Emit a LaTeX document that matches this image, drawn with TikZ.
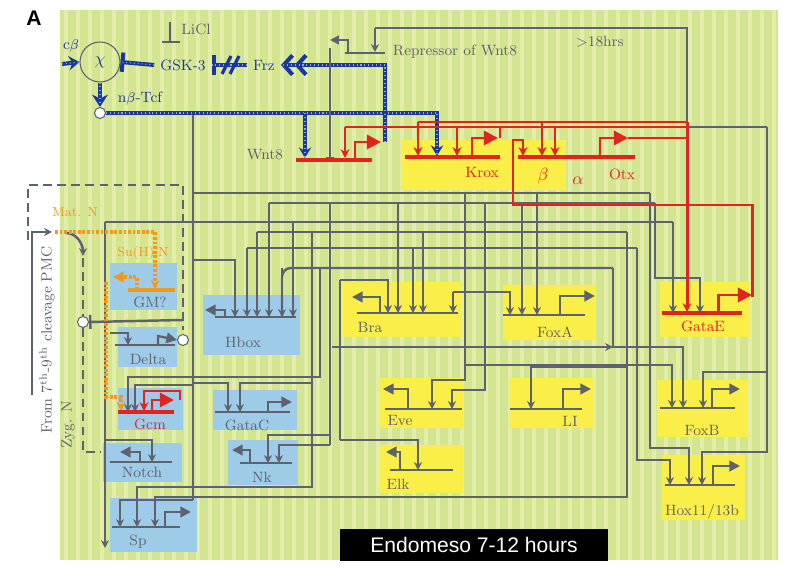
\documentclass[tikz,border=0pt]{standalone}
\usepackage{fontspec}
\newfontfamily\tagfont{Liberation Sans}
\usetikzlibrary{arrows.meta, positioning}
\definecolor{bggreen}{RGB}{212,229,146}
\definecolor{bgstripe}{RGB}{226,237,170}
\definecolor{wgray}{RGB}{94,98,110}
\definecolor{genered}{RGB}{226,36,30}
\definecolor{wntblue}{RGB}{24,56,158}
\definecolor{matorange}{RGB}{242,152,28}
\definecolor{geneyellow}{RGB}{250,238,72}
\definecolor{geneblue}{RGB}{158,204,232}

\begin{document}
\begin{tikzpicture}[x=0.02cm, y=-0.02cm,
        gname/.style={font=\fontsize{8.5}{9}\selectfont, text=wgray},
        rname/.style={font=\fontsize{8.5}{9}\selectfont, text=genered},
        bname/.style={font=\fontsize{8.5}{10}\selectfont, text=wntblue},
        oname/.style={font=\fontsize{7.5}{9}\selectfont, text=matorange},
        wire/.style={draw=wgray, line width=1.4pt, -{Stealth[length=4.5pt,width=4.5pt]}},
        gline/.style={draw=wgray, line width=1.4pt},
        gbar/.style={draw=wgray, line width=1.4pt},
        prom/.style={draw=wgray, line width=1.3pt, -{Triangle[length=6pt,width=6pt]}},
        rwire/.style={draw=genered, line width=1.7pt, -{Stealth[length=5pt,width=5pt]}},
        rline/.style={draw=genered, line width=1.7pt},
        rbar/.style={draw=genered, line width=1.9pt},
        rprom/.style={draw=genered, line width=1.7pt, -{Triangle[length=8pt,width=8pt]}},
        bwire/.style={draw=wntblue, line width=2.3pt, postaction={draw=wntblue!45!white, arrows=-, line width=0.6pt, dash pattern=on 0.6pt off 1.6pt}},
        owire/.style={draw=matorange, line width=2pt, dash pattern=on 1.6pt off 1pt},
        ybox/.style={fill=geneyellow},
        bbox/.style={fill=geneblue},
        dline/.style={draw=wgray, line width=1pt, dash pattern=on 5pt off 3pt},
        knot/.style={circle, draw=wgray, fill=white, line width=0.6pt, minimum size=0.22cm, inner sep=0pt}
    ]
    \useasboundingbox (0,0) rectangle (788,570);
    \fill[white] (0,0) rectangle (788,570);
    \fill[bggreen] (60,10) rectangle (778,560);
    \foreach \x in {64,76,...,772}
        \fill[bgstripe] (\x,10) rectangle (\x+4,560);

    % gene boxes
    \fill[ybox] (402,140) rectangle (566,190);
    \fill[ybox] (340,282) rectangle (462,337);
    \fill[ybox] (503,285) rectangle (595,340);
    \fill[ybox] (660,282) rectangle (750,337);
    \fill[ybox] (380,378) rectangle (463,428);
    \fill[ybox] (510,378) rectangle (593,428);
    \fill[ybox] (380,445) rectangle (463,493);
    \fill[ybox] (657,380) rectangle (748,437);
    \fill[ybox] (662,455) rectangle (745,520);
    \fill[bbox] (110,263) rectangle (177,310);
    \fill[bbox] (118,327) rectangle (177,367);
    \fill[bbox] (203,295) rectangle (300,355);
    \fill[bbox] (118,388) rectangle (183,430);
    \fill[bbox] (213,390) rectangle (297,430);
    \fill[bbox] (103,443) rectangle (182,482);
    \fill[bbox] (228,440) rectangle (298,485);
    \fill[bbox] (110,498) rectangle (197,552);

    \node[font=\tagfont\bfseries\large] (panel) at (34,18) {A};

    % left: maternal and zygotic N
    \draw[dline] (28,240) -- (28,185) -- (183,185) -- (183,330);
    \draw[wire] (32,395) -- (32,232) -- (52,232);
    \draw[gline, -{Stealth[length=4.5pt,width=4.5pt]}] (66,233) to[out=0, in=90] (83,256);
    \draw[dline] (83,258) -- (83,452) -- (100,452);
    \node[knot] (nleft) at (83,322) {};
    \node[knot] (nright) at (183,340) {};
    \draw[gline, -{Bar[width=8pt]}] (183,320) -- (nleft.east);
    \node[gname, rotate=90] (pmc) at (47,340) {From 7\textsuperscript{th}-9\textsuperscript{th} cleavage PMC};
    \node[gname, rotate=90] (zygn) at (68,425) {Zyg. N};

    % gray network
    \draw[gline] (193,113) -- (193,500);
    \draw[wire] (193,500) -- (120,500) -- (120,527);
    \draw[wire] (193,260) -- (235,260) -- (235,317);
    \draw[gline] (193,193) -- (650,193);
    \draw[wire] (650,193) -- (650,448) -- (689,448) -- (689,485);
    \draw[gline] (269,203) -- (655,203);
    \draw[wire] (269,203) -- (269,317);
    \draw[wire] (655,203) -- (655,278) -- (700,278) -- (700,313);
    \draw[gline] (105,222) -- (673,222);
    \draw[wire] (673,222) -- (673,313);
    \draw[wire] (293,222) -- (293,317);
    \draw[wire] (105,222) -- (105,548);
    \draw[gline] (257,232) -- (627,232);
    \draw[wire] (257,232) -- (257,317);
    \draw[wire] (627,232) -- (627,497) -- (155,497) -- (155,527);
    \draw[wire] (627,367) -- (531,367) -- (531,409);
    \draw[gline] (247,248) -- (637,248);
    \draw[wire] (247,248) -- (247,317);
    \draw[wire] (637,248) -- (637,460) -- (670,460) -- (670,485);
    \draw[gline, rounded corners=5pt] (282,317) -- (282,268) -- (613,268);
    \draw[wire] (282,268) -- (282,317);
    \draw[wire] (613,268) -- (613,347) -- (683,347) -- (683,408);
    \draw[wire] (332,347) -- (613,347);
    \draw[wire] (465,365) -- (672,365) -- (672,408);
    \draw[wire] (767,127) -- (767,452) -- (702,452) -- (702,485);
    \draw[wire] (767,372) -- (703,372) -- (703,408);
    \draw[gline] (767,127) -- (687,127) -- (687,28) -- (375,28);
    \draw[wire] (375,28) -- (375,52);

    % Bra, FoxA
    \draw[gline] (340,440) -- (340,280);
    \draw[wire] (340,280) -- (388,280) -- (388,313);
    \draw[wire] (398,203) -- (398,313);
    \draw[wire] (413,248) -- (413,313);
    \draw[wire] (423,232) -- (423,313);
    \draw[wire] (453,292) -- (453,313);
    \draw[wire] (453,292) -- (510,292) -- (510,315);
    \draw[wire] (522,203) -- (522,315);
    \draw[wire] (537,193) -- (537,315);
    \draw[gbar] (357,313) -- (458,313);
    \draw[prom] (380,313) -- (380,297) -- (352,297);
    \draw[gbar] (503,315) -- (585,315);
    \draw[prom] (560,315) -- (560,296) -- (595,296);

    % Eve, Lim, Elk
    \draw[wire] (465,193) -- (465,380) -- (432,380) -- (432,409);
    \draw[wire] (485,203) -- (485,390) -- (452,390) -- (452,409);
    \draw[gbar] (385,409) -- (462,409);
    \draw[prom] (408,409) -- (408,389) -- (383,389);
    \draw[gbar] (510,409) -- (582,409);
    \draw[prom] (563,409) -- (563,389) -- (591,389);
    \draw[wire] (340,440) -- (418,440) -- (418,470);
    \draw[gbar] (390,470) -- (453,470);
    \draw[prom] (400,470) -- (400,452) -- (386,452);

    % FoxB, Hox11/13b
    \draw[gbar] (660,408) -- (735,408);
    \draw[prom] (712,408) -- (712,389) -- (740,389);
    \draw[gbar] (665,485) -- (735,485);
    \draw[prom] (713,485) -- (713,466) -- (740,466);

    % mesoderm genes
    \draw[gbar] (215,317) -- (296,317);
    \draw[prom] (225,317) -- (225,310) -- (205,310);
    \draw[wire] (193,383) -- (228,383) -- (228,412);
    \draw[wire] (312,232) -- (312,383) -- (240,383) -- (240,412);
    \draw[gbar] (215,412) -- (290,412);
    \draw[prom] (268,412) -- (268,402) -- (292,402);
    \draw[wire] (320,268) -- (320,377) -- (128,377) -- (128,412);
    \draw[wire] (193,385) -- (135,385) -- (135,412);
    \draw[wire] (312,383) -- (312,487) -- (137,487) -- (137,527);
    \draw[gline] (330,203) -- (330,445);
    \draw[wire] (330,435) -- (268,435) -- (268,463);
    \draw[wire] (330,445) -- (279,445) -- (279,463);
    \draw[gbar] (240,463) -- (292,463);
    \draw[prom] (250,463) -- (250,450) -- (232,450);
    \draw[wire] (105,440) -- (152,440) -- (152,462);
    \draw[gbar] (110,462) -- (172,462);
    \draw[prom] (140,462) -- (140,452) -- (120,452);
    \draw[gbar] (112,527) -- (180,527);
    \draw[prom] (165,527) -- (165,512) -- (191,512);
    \draw[wire] (110,333) -- (128,333) -- (128,345);
    \draw[gbar] (115,345) -- (175,345);
    \draw[prom] (158,345) -- (158,336) -- (nright.west);

    % maternal N and Su(H):N
    \draw[owire, -{Stealth[length=5pt,width=5pt]}] (55,232) -- (155,232) -- (155,289);
    \draw[owire, -{Triangle[length=6pt,width=6pt]}] (137,290) -- (137,277) -- (113,277);
    \draw[owire, -{Stealth[length=5pt,width=5pt]}] (106,282) -- (106,397) -- (121,397) -- (121,411);
    \draw[draw=matorange, line width=1.8pt] (128,290) -- (175,290);
    \node[oname] (matn) at (75,212) {Mat. N};
    \node[oname] (suhn) at (143,253) {Su(H):N};

    % Gcm
    \draw[rbar] (118,412) -- (174,412);
    \draw[rprom] (152,412) -- (152,400) -- (174,400);
    \draw[rwire] (180,400) -- (180,391) -- (144,391) -- (144,411);

    % Wnt pathway
    \node[circle, draw=wgray, line width=0.6pt, minimum size=0.8cm, text=wntblue] (chi) at (100,62) {$\chi$};
    \node[bname] (cbeta) at (71,46) {c$\beta$};
    \coordinate (cbin) at (62,64);
    \draw[bwire, -{Stealth[length=6pt,width=8pt]}] (cbin) -- (chi.west);
    \node[bname] (gsk) at (183,65) {GSK-3};
    \draw[bwire, -{Bar[width=11pt]}] (gsk.west) -- (chi.east);
    \node[bname] (frz) at (264,65) {Frz};
    \draw[bwire, -{Bar[width=11pt]}] (frz.west) -- (gsk.east);
    \draw[wntblue, line width=1.8pt] (222,74) -- (231,56) (230,74) -- (239,56);
    \node[gname] (licl) at (196,29) {LiCl};
    \draw[wgray, line width=0.8pt] (170,22) -- (170,42) (162,42) -- (180,42);
    \node[bname] (ntcf) at (140,99) {n$\beta$-Tcf};
    \node[knot] (tcf) at (100,113) {};
    \draw[bwire, -{Stealth[length=7pt,width=9pt]}] (chi.south) -- (tcf.north);
    \draw[bwire, -{Stealth[length=6pt,width=7pt]}] (tcf.east) -- (437,113) -- (437,156);
    \draw[bwire, -{Stealth[length=6pt,width=7pt]}] (305,113) -- (305,158);
    \draw[bwire, -{Straight Barb[length=5pt,width=11pt] Straight Barb[length=5pt,width=11pt]}] (385,142) -- (385,65) -- (frz.east);

    % repressor of Wnt8
    \draw[wgray, line width=0.8pt] (345,53) -- (385,53);
    \draw[wgray, line width=0.8pt, -{Triangle[length=5pt,width=5pt]}] (348,53) -- (348,40) -- (330,40);
    \draw[wgray, line width=0.8pt, -{Bar[width=5pt]}] (330,48) -- (330,158);
    \node[gname] (repr) at (455,52) {Repressor of Wnt8};
    \node[gname] (late) at (600,42) {$>$18hrs};

    % red endoderm kernel
    \draw[rline] (418,122) -- (687,122);
    \draw[rline] (345,127) -- (687,127);
    \draw[rline] (628,138) -- (687,138);
    \draw[rwire] (687,122) -- (687,312);
    \draw[rwire] (345,127) -- (345,158);
    \draw[rwire] (418,122) -- (418,156);
    \draw[rwire] (457,127) -- (457,156);
    \draw[rwire] (542,122) -- (542,156);
    \draw[rwire] (555,127) -- (555,156);
    \draw[rline] (500,138) -- (500,127);
    \draw[rwire] (752,297) -- (752,205) -- (513,205) -- (513,140) -- (523,140) -- (523,156);
    \draw[rbar] (296,160) -- (372,160);
    \draw[rprom] (355,160) -- (355,142) -- (381,142);
    \draw[rbar] (405,157) -- (500,157);
    \draw[rprom] (472,157) -- (472,138) -- (498,138);
    \draw[rbar] (518,157) -- (635,157);
    \draw[rprom] (600,157) -- (600,138) -- (628,138);
    \draw[rbar] (662,313) -- (742,313);
    \draw[rprom] (718,313) -- (718,295) -- (752,295);

    % gene names
    \node[gname] (wnt8) at (265,155) {Wnt8};
    \node[rname] (krox) at (482,172) {Krox};
    \node[rname, font=\fontsize{10}{11}\selectfont] (otxb) at (543,176) {$\beta$};
    \node[rname, font=\fontsize{10}{11}\selectfont] (otxa) at (578,181) {$\alpha$};
    \node[rname] (otx) at (622,174) {Otx};
    \node[rname] (gatae) at (703,326) {GataE};
    \node[gname] (bra) at (370,327) {Bra};
    \node[gname] (foxa) at (555,332) {FoxA};
    \node[gname] (eve) at (400,421) {Eve};
    \node[gname] (lim) at (570,421) {LI};
    \node[gname] (elk) at (398,484) {Elk};
    \node[gname] (foxb) at (702,430) {FoxB};
    \node[gname] (hox) at (702,512) {Hox11/13b};
    \node[gname] (hbox) at (243,342) {Hbox};
    \node[gname] (gm) at (150,302) {GM?};
    \node[gname] (delta) at (148,359) {Delta};
    \node[rname] (gcm) at (150,424) {Gcm};
    \node[gname] (gatac) at (247,425) {GataC};
    \node[gname] (notch) at (142,472) {Notch};
    \node[gname] (nk) at (262,477) {Nk};
    \node[gname] (sp) at (138,542) {Sp};

    \node[fill=black, text=white, font=\tagfont\fontsize{12}{14}\selectfont, minimum width=5.36cm, minimum height=0.66cm, inner sep=0pt] (stage) at (474,545) {Endomeso 7-12 hours};
\end{tikzpicture}
\end{document}
